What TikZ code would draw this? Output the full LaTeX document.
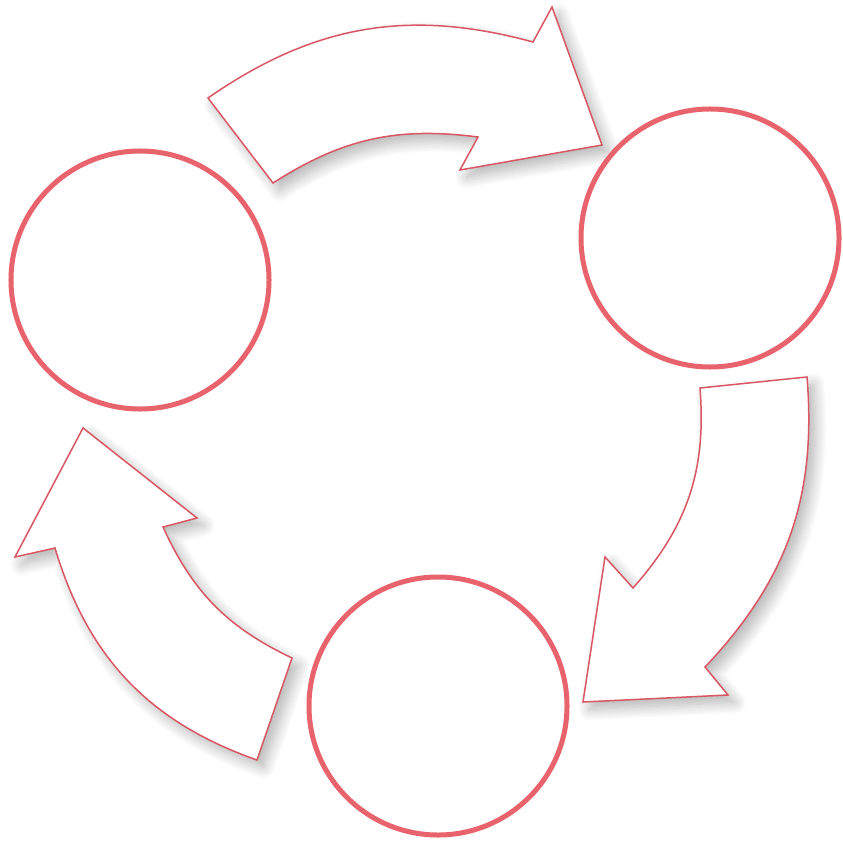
\documentclass[tikz,border=0pt]{standalone}
\usepackage{tikz}
\usetikzlibrary{positioning, calc, shadows, shadows.blur}
\usepackage{xcolor}
\definecolor{RingRed}{HTML}{E8636B}
\definecolor{EdgeRed}{HTML}{D95763}

\begin{document}
\begin{tikzpicture}[x=0.03cm, y=0.03cm,
    ring/.style={circle, draw=RingRed, line width=0.15cm, fill=white, minimum size=7.74cm, inner sep=0pt},
    bigarrow/.style={draw=EdgeRed, line width=0.045cm, fill=white, line join=miter,
      blur shadow={shadow xshift=0.2cm, shadow yshift=-0.22cm, shadow blur radius=0.35cm,
        shadow blur steps=14, shadow opacity=30}}]
  \useasboundingbox (0,0) rectangle (842,-849);

  % top arrow, west to east
  \draw[bigarrow] (208,-98) to[bend left=25] (533,-42) -- (552,-7) -- (602,-145)
    -- (460,-170) -- (478,-137) to[bend right=20] (273,-183) -- cycle;
  % right arrow, east to south
  \draw[bigarrow] (807,-377) to[bend left=24] (705,-667) -- (728,-695) -- (583,-702)
    -- (605,-557) -- (633,-588) to[bend right=23] (700,-388) -- cycle;
  % left arrow, south to west
  \draw[bigarrow] (257,-760) -- (292,-658) to[bend left=20] (163,-527) -- (197,-518)
    -- (83,-428) -- (15,-557) -- (55,-548) to[bend right=27] cycle;

  % the three stages
  \node[ring] (ringW) at (140,-280) {};
  \node[ring] (ringE) at (710,-238) {};
  \node[ring] (ringS) at (438,-706) {};
\end{tikzpicture}
\end{document}
